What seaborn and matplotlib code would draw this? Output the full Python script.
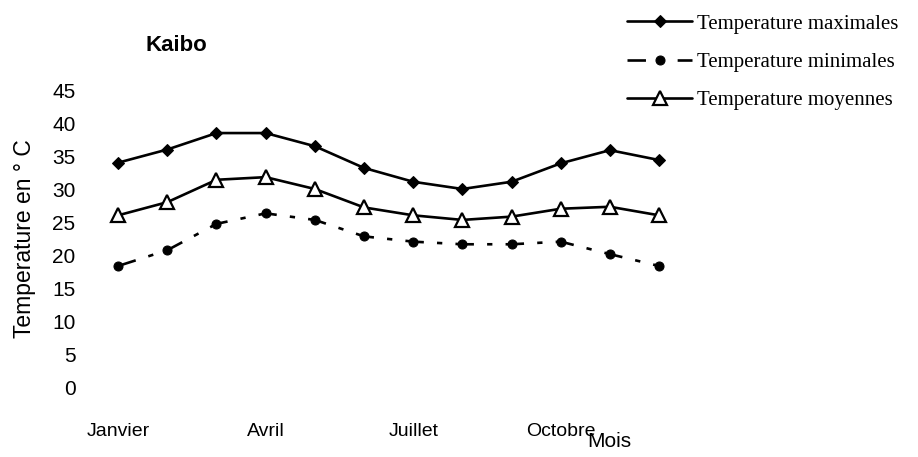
import numpy as np
import pandas as pd
import seaborn as sns
import matplotlib.pyplot as plt

# monthly temperatures at Kaibo
mois = ["Janvier", "Fevrier", "Mars", "Avril", "Mai", "Juin",
        "Juillet", "Aout", "Septembre", "Octobre", "Novembre", "Decembre"]
t_max = [34.1, 36.1, 38.6, 38.6, 36.6, 33.3, 31.2, 30.1, 31.2, 34.0, 36.0, 34.5]
t_min = [18.4, 20.8, 24.8, 26.4, 25.4, 22.9, 22.1, 21.7, 21.7, 22.1, 20.2, 18.4]
t_moy = [26.1, 28.1, 31.5, 31.9, 30.1, 27.3, 26.1, 25.4, 25.9, 27.1, 27.4, 26.1]
tick_labels = ["Janvier", "Avril", "Juillet", "Octobre"]

df = pd.DataFrame({"mois": np.arange(1, 13), "max": t_max, "min": t_min, "moy": t_moy})

sns.set_theme(style="white")
plt.rcParams['font.family'] = ['Liberation Sans', 'DejaVu Sans']
plt.rcParams['text.color'] = 'black'
plt.rcParams['axes.labelcolor'] = 'black'
plt.rcParams['xtick.color'] = 'black'
plt.rcParams['ytick.color'] = 'black'

fig = plt.figure(figsize=(9.18, 4.57), dpi=100)
ax = fig.add_axes([0.1035, 0.153, 0.66, 0.648])

sns.lineplot(data=df, x="mois", y="max", ax=ax, color="black", lw=1.9,
             marker="D", markersize=6, markeredgecolor="black",
             label="Temperature maximales")
sns.lineplot(data=df, x="mois", y="min", ax=ax, color="black", lw=1.9,
             marker="o", markersize=6.5, markeredgecolor="black",
             dashes=False, label="Temperature minimales")
ax.lines[-1].set_dashes([7, 5, 2, 5])
sns.lineplot(data=df, x="mois", y="moy", ax=ax, color="black", lw=1.9,
             marker="^", markersize=10, markerfacecolor="white",
             markeredgecolor="black", markeredgewidth=1.6,
             label="Temperature moyennes")

ax.set_ylim(0, 45)
ax.set_xlim(0.53, 12.85)
ax.set_yticks(np.arange(0, 46, 5))
ax.set_xticks([1, 4, 7, 10])
ax.set_xticklabels(tick_labels)
ax.tick_params(axis="y", labelsize=15, pad=14, length=0)
ax.tick_params(axis="x", labelsize=14, pad=26, length=0)
for s in ax.spines.values():
    s.set_visible(False)

ax.set_xlabel("")
ax.set_ylabel("Temperature en ° C", fontsize=16.5, labelpad=12)
fig.text(0.192, 0.9, "Kaibo", fontsize=16, fontweight="bold", ha="center", va="center")
fig.text(0.664, 0.033, "Mois", fontsize=15, ha="center", va="center")

ax.get_legend().remove()
h, l = ax.get_legend_handles_labels()
fig.legend(h, l, loc="upper left", bbox_to_anchor=(0.663, 1.01), frameon=False,
           prop={"family": "Liberation Serif", "size": 15}, handlelength=3.1,
           labelspacing=0.9, handletextpad=0.25)

fig.savefig("out.png", dpi=100)
